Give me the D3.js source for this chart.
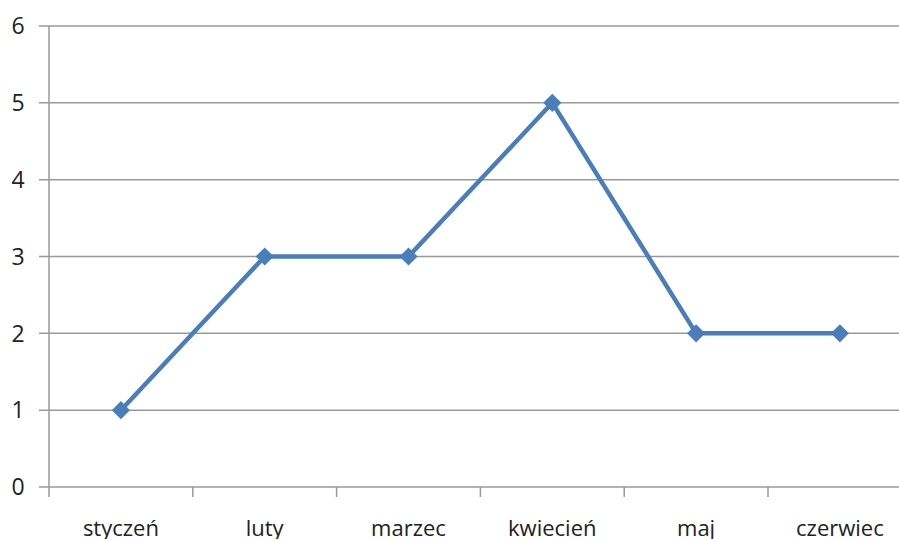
<!DOCTYPE html>
<html>
<head>
<meta charset="utf-8">
<script src="https://cdn.jsdelivr.net/npm/d3@7"></script>
<style>
  body { margin: 0; background: #fff; }
  text { font-family: "Open Sans", sans-serif; fill: #222; }
</style>
</head>
<body>
<div class="chart"></div>
<script>
var months = ["styczeń", "luty", "marzec", "kwiecień", "maj", "czerwiec"];
var values = [1, 3, 3, 5, 2, 2];
var yTicks = [0, 1, 2, 3, 4, 5, 6];

var width = 899, height = 539;
var margin = {top: 26, left: 49, bottom: 52};
var bandW = 143.8;

var svg = d3.select(".chart")
            .append("svg")
            .attr("width", width)
            .attr("height", height);

var x = d3.scaleBand()
          .domain(months)
          .range([margin.left, margin.left + bandW * months.length]);

var y = d3.scaleLinear()
          .domain([0, 6])
          .range([height - margin.bottom, margin.top]);

// gridlines + y ticks
svg.append("g")
    .selectAll("line")
    .data(yTicks)
  .enter().append("line")
    .attr("x1", margin.left - 10)
    .attr("x2", width)
    .attr("y1", function(d) { return y(d); })
    .attr("y2", function(d) { return y(d); })
    .attr("stroke", "#999")
    .attr("stroke-width", 1.5);

svg.append("g")
    .selectAll("text")
    .data(yTicks)
  .enter().append("text")
    .attr("x", 18)
    .attr("y", function(d) { return y(d); })
    .attr("dy", "0.36em")
    .attr("text-anchor", "middle")
    .style("font-size", "23px")
    .text(function(d) { return d; });

// y axis line
svg.append("line")
    .attr("x1", margin.left).attr("x2", margin.left)
    .attr("y1", y(6)).attr("y2", y(0) + 10)
    .attr("stroke", "#999")
    .attr("stroke-width", 1.5);

// category ticks
var bounds = months.map(function(m) { return x(m) + bandW; });
svg.append("g")
    .selectAll("line")
    .data(bounds)
  .enter().append("line")
    .attr("x1", function(d) { return d; })
    .attr("x2", function(d) { return d; })
    .attr("y1", y(0))
    .attr("y2", y(0) + 10)
    .attr("stroke", "#999")
    .attr("stroke-width", 1.5);

svg.append("g")
    .selectAll("text")
    .data(months)
  .enter().append("text")
    .attr("x", function(d) { return x(d) + bandW / 2; })
    .attr("y", 536)
    .attr("text-anchor", "middle")
    .style("font-size", "22px")
    .text(function(d) { return d; });

// series
var line = d3.line()
    .x(function(d, i) { return x(months[i]) + bandW / 2; })
    .y(function(d) { return y(d); });

svg.append("path")
    .datum(values)
    .attr("d", line)
    .attr("fill", "none")
    .attr("stroke", "#4a7ebb")
    .attr("stroke-width", 4.5)
    .attr("stroke-linejoin", "round");

svg.append("g")
    .selectAll("path")
    .data(values)
  .enter().append("path")
    .attr("transform", function(d, i) {
      return "translate(" + (x(months[i]) + bandW / 2) + "," + y(d) + ")";
    })
    .attr("d", d3.symbol().type(d3.symbolDiamond2).size(210))
    .attr("fill", "#4a7ebb");
</script>
</body>
</html>
